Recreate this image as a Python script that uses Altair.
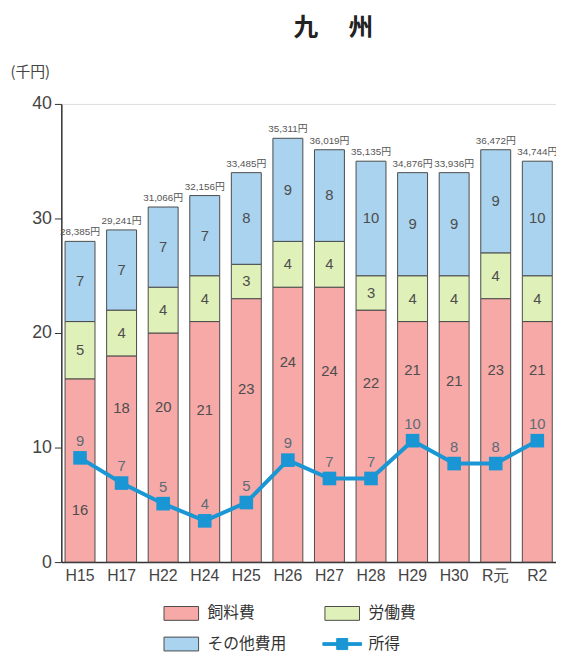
import altair as alt
import pandas as pd

# ---- data ----
years = ["H15", "H17", "H22", "H24", "H25", "H26", "H27", "H28", "H29", "H30", "R元", "R2"]
feed = [16, 18, 20, 21, 23, 24, 24, 22, 21, 21, 23, 21]          # 飼料費
labor = [5, 4, 4, 4, 3, 4, 4, 3, 4, 4, 4, 4]                     # 労働費
other = [7, 7, 7, 7, 8, 9, 8, 10, 9, 9, 9, 10]                   # その他費用
income = [9.1, 6.9, 5.1, 3.6, 5.2, 8.9, 7.3, 7.3, 10.6, 8.6, 8.6, 10.6]  # 所得
income_labels = ["9", "7", "5", "4", "5", "9", "7", "7", "10", "8", "8", "10"]
totals = ["28,385円", "29,241円", "31,066円", "32,156円", "33,485円", "35,311円",
          "36,019円", "35,135円", "34,876円", "33,936円", "36,472円", "34,744円"]
categories = ["飼料費", "労働費", "その他費用", "所得"]

# ---- styles ----
C_FEED = "#f6a9a7"
C_LABOR = "#e0f0b9"
C_OTHER = "#a9d3ef"
C_LINE = "#1a96d4"
EDGE = "#4a4a4a"
NUM_FONT = "Liberation Sans"
JP_FONT = "Noto Sans CJK JP"

df = pd.DataFrame({
    "year": years, "feed": feed, "labor": labor, "other": other,
    "income": income, "income_label": income_labels, "total": totals,
})
legend_df = pd.DataFrame({"cat": categories})

x_enc = alt.X(
    "year:N", sort=years,
    scale=alt.Scale(paddingInner=0.28, paddingOuter=0.09),
    axis=alt.Axis(title=None, labelAngle=0, ticks=False, domainColor="#333",
                  domainWidth=1.5, labelFontSize=16, labelColor="#444",
                  labelPadding=6, labelFont=NUM_FONT, grid=False),
)
y_scale = alt.Scale(domain=[0, 40], nice=False)
y_axis = alt.Axis(values=[0, 10, 20, 30, 40], grid=False, tickSize=7,
                  tickColor="#333", domainColor="#333", domainWidth=1.5,
                  labelFontSize=18, labelColor="#444", labelFont=NUM_FONT,
                  labelPadding=3, title="(千円)", titleAngle=0,
                  titleAlign="left", titleX=-52, titleY=-33,
                  titleBaseline="middle", titleFontSize=15,
                  titleFontWeight="normal", titleFont=JP_FONT,
                  titleColor="#444")

base = alt.Chart(df)

bars = base.transform_fold(
    ["feed", "labor", "other"], as_=["cat", "value"]
).transform_calculate(
    ord="indexof(['feed','labor','other'], datum.cat)"
).mark_bar(stroke=EDGE, strokeWidth=1).encode(
    x=x_enc,
    y=alt.Y("value:Q", stack="zero", scale=y_scale, axis=y_axis),
    color=alt.Color("cat:N", scale=alt.Scale(domain=["feed", "labor", "other"],
                                             range=[C_FEED, C_LABOR, C_OTHER]),
                    legend=None),
    order=alt.Order("ord:Q"),
)

seg_labels = base.transform_fold(
    ["feed", "labor", "other"], as_=["cat", "value"]
).transform_calculate(
    ypos="datum.cat == 'feed' ? ((datum.feed - datum.income >= 10) ? (datum.feed + datum.income) / 2 + 1 : datum.income / 2)"
         " : datum.cat == 'labor' ? datum.feed + datum.labor / 2"
         " : datum.feed + datum.labor + datum.other / 2"
).mark_text(fontSize=15, font=NUM_FONT, color="#4d4d4d").encode(
    x=alt.X("year:N", sort=years),
    y=alt.Y("ypos:Q", scale=y_scale, axis=y_axis),
    text=alt.Text("value:Q"),
)

total_labels = base.transform_calculate(
    top="datum.feed + datum.labor + datum.other"
).mark_text(fontSize=10, font=NUM_FONT + ", " + JP_FONT, color="#555",
            baseline="bottom", dy=-4).encode(
    x=alt.X("year:N", sort=years),
    y=alt.Y("top:Q", scale=y_scale, axis=y_axis),
    text="total:N",
)

line = base.mark_line(color=C_LINE, strokeWidth=4).encode(
    x=alt.X("year:N", sort=years),
    y=alt.Y("income:Q", scale=y_scale, axis=y_axis),
)
points = base.mark_square(color=C_LINE, size=190, opacity=1).encode(
    x=alt.X("year:N", sort=years),
    y=alt.Y("income:Q", scale=y_scale, axis=y_axis),
)
income_text = base.mark_text(fontSize=15, font=NUM_FONT, color="#5d6b78", dy=-17).encode(
    x=alt.X("year:N", sort=years),
    y=alt.Y("income:Q", scale=y_scale, axis=y_axis),
    text="income_label:N",
)

# legend only layer (no marks drawn)
leg = alt.Legend(orient="none", legendX=113.5, legendY=508, columns=2,
                 direction="horizontal",
                 symbolSize=196, labelFontSize=16, labelFont=JP_FONT,
                 labelColor="#333", labelOffset=18.5, columnPadding=34,
                 rowPadding=13, symbolStrokeWidth=1)
rect_path = "M-2.5,-1H2.5V1H-2.5Z"
line_path = "M-2.8,-0.2H2.8V0.2H-2.8Z M-0.8,-0.8H0.8V0.8H-0.8Z"
legend_layer = alt.Chart(legend_df).transform_filter("false").mark_point(
    filled=True, strokeWidth=1, opacity=1
).encode(
    x=alt.X("year:N", sort=years),
    y=alt.Y("income:Q", scale=y_scale, axis=y_axis),
    fill=alt.Fill("cat:N", title=None, legend=leg,
                  scale=alt.Scale(domain=categories,
                                  range=[C_FEED, C_LABOR, C_OTHER, C_LINE])),
    stroke=alt.Stroke("cat:N", title=None, legend=leg,
                      scale=alt.Scale(domain=categories,
                                      range=[EDGE, EDGE, EDGE, C_LINE])),
    shape=alt.Shape("cat:N", title=None, legend=leg,
                    scale=alt.Scale(domain=categories,
                                    range=[rect_path, rect_path, rect_path, line_path])),
)

chart = alt.layer(
    bars, seg_labels, total_labels, line, points, income_text, legend_layer
).resolve_scale(
    fill="independent", stroke="independent", shape="independent"
).properties(
    width=501, height=464,
    autosize="none",
    padding={"left": 54, "top": 93, "right": 0, "bottom": 94},
    title=alt.TitleParams("九　 州", fontSize=25, font=JP_FONT, fontWeight="bold",
                          anchor="middle", dx=25, offset=0, dy=1, baseline="bottom",
                          color="#222"),
).configure_view(stroke="transparent", strokeWidth=0).configure_axis(
    grid=False
).configure(background="white")

chart.save("out.html", embed_options={"renderer": "svg", "actions": False})
